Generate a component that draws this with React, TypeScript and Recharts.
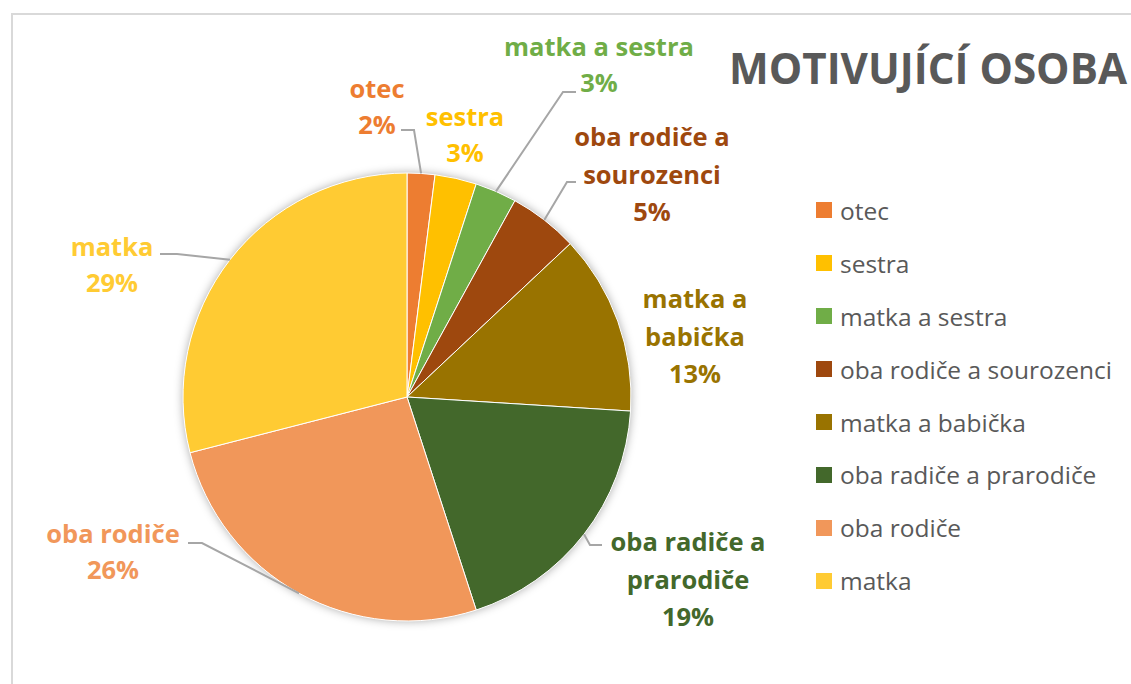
import { PieChart, Pie, Cell, Legend } from "recharts";

const CATEGORIES = [
  "otec",
  "sestra",
  "matka a sestra",
  "oba rodiče a sourozenci",
  "matka a babička",
  "oba radiče a prarodiče",
  "oba rodiče",
  "matka",
];
const SHARES = [2, 3, 3, 5, 13, 19, 26, 29];
const COLORS = ["#ED7D31", "#FFC000", "#70AD47", "#9E480E", "#997300", "#43682B", "#F1975A", "#FFCB33"];

const data = CATEGORIES.map((name, i) => ({ name, value: SHARES[i] }));

const FONT = "'Open Sans', sans-serif";
const RAD = Math.PI / 180;

// hand placed label spots (relative to pie centre), like the Excel original
// split = words on first line, lead = [endX, endY, elbowX, elbowY]
const LABEL_LAYOUT: { dx: number; dy: number; split: number[]; lead?: number[] }[] = [
  { dx: -30, dy: -309, split: [1], lead: [-6, -267, 7, -267] },
  { dx: 58, dy: -281, split: [1] },
  { dx: 192, dy: -351, split: [3], lead: [169, -305, 156, -305] },
  { dx: 245, dy: -261, split: [3, 4], lead: [169, -215, 160, -215] },
  { dx: 288, dy: -99, split: [2, 3] },
  { dx: 281, dy: 144, split: [3, 4], lead: [195, 148, 183, 148] },
  { dx: -294, dy: 136, split: [2], lead: [-219, 146, -205, 146] },
  { dx: -295, dy: -151, split: [1], lead: [-247, -143, -230, -143] },
];

function renderLabel(props: any) {
  const { cx, cy, midAngle, outerRadius, index, name, value } = props;
  const lay = LABEL_LAYOUT[index];
  const words = String(name).split(" ");
  const lines: string[] = [];
  let start = 0;
  lay.split.forEach((s) => {
    lines.push(words.slice(start, s).join(" "));
    start = s;
  });
  if (start < words.length) lines.push(words.slice(start).join(" "));
  lines.push(`${value}%`);
  const step = lines.length > 2 ? 37.5 : 36;
  const x = cx + lay.dx;
  let leader = null;
  if (lay.lead) {
    const ex = cx + outerRadius * Math.cos(-midAngle * RAD);
    const ey = cy + outerRadius * Math.sin(-midAngle * RAD);
    const pts = `${cx + lay.lead[0]},${cy + lay.lead[1]} ${cx + lay.lead[2]},${cy + lay.lead[3]} ${ex},${ey}`;
    leader = <polyline points={pts} fill="none" stroke="#A6A6A6" strokeWidth={2} />;
  }
  return (
    <g key={`lbl-${index}`}>
      {leader}
      {lines.map((t, i) => (
        <text
          key={i}
          x={x}
          y={cy + lay.dy + i * step}
          textAnchor="middle"
          dominantBaseline="central"
          fill={COLORS[index]}
          fontFamily={FONT}
          fontWeight={700}
          fontSize={25.5}
        >
          {t}
        </text>
      ))}
    </g>
  );
}

function LegendBox() {
  return (
    <div style={{ fontFamily: FONT }}>
      {CATEGORIES.map((c, i) => (
        <div key={c} style={{ display: "flex", alignItems: "center", height: 52.9 }}>
          <span style={{ width: 16, height: 16, background: COLORS[i], marginRight: 8, flexShrink: 0 }} />
          <span style={{ fontSize: 24.5, color: "#595959", whiteSpace: "nowrap" }}>{c}</span>
        </div>
      ))}
    </div>
  );
}

export default function App() {
  return (
    <div style={{ position: "absolute", left: 0, top: 0, width: 1131, height: 684, overflow: "hidden", background: "#fff" }}>
      <div
        style={{
          position: "absolute",
          left: 11,
          top: 13,
          width: 1300,
          height: 900,
          border: "2px solid #D9D9D9",
        }}
      />
      <div style={{ position: "absolute", left: 0, top: 0 }}>
        <PieChart width={1131} height={684} margin={{ top: 0, right: 0, bottom: 0, left: 0 }}>
          <Pie
            data={[{ value: 1 }]}
            dataKey="value"
            cx={407}
            cy={397}
            outerRadius={224}
            startAngle={90}
            endAngle={-270}
            stroke="none"
            isAnimationActive={false}
          >
            <Cell fill="#ffffff" style={{ filter: "drop-shadow(0 0 5px rgba(0,0,0,0.35))" }} />
          </Pie>
          <Pie
            data={data}
            dataKey="value"
            nameKey="name"
            cx={407}
            cy={397}
            outerRadius={224}
            startAngle={90}
            endAngle={-270}
            stroke="#ffffff"
            strokeWidth={1}
            label={renderLabel}
            labelLine={false}
            isAnimationActive={false}
          >
            {data.map((_, i) => (
              <Cell key={`cell-${i}`} fill={COLORS[i]} />
            ))}
          </Pie>
          <Legend
            layout="vertical"
            verticalAlign="top"
            align="right"
            wrapperStyle={{ left: 816, top: 184, right: "auto", width: 315 }}
            content={() => <LegendBox />}
          />
        </PieChart>
      </div>
      <svg width={1131} height={684} style={{ position: "absolute", left: 0, top: 0, pointerEvents: "none" }}>
        <text x={729} y={84} fontFamily={FONT} fontWeight={700} fontSize={43} fill="#595959" textLength={398} lengthAdjust="spacingAndGlyphs">
          MOTIVUJÍCÍ OSOBA
        </text>
      </svg>
    </div>
  );
}
